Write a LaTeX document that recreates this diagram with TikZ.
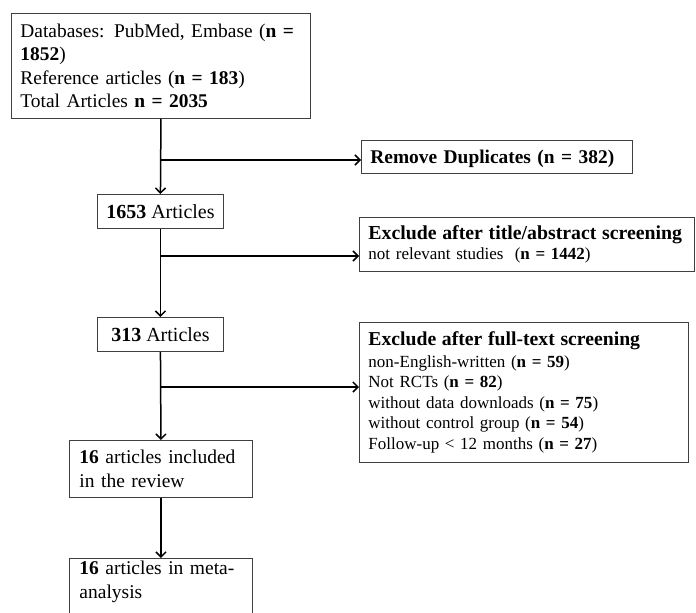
\documentclass[tikz,border=0pt]{standalone}
\usepackage{fontspec}
\setmainfont{Liberation Serif}
\usetikzlibrary{arrows.meta}
\begin{document}
\begin{tikzpicture}[x=1pt,y=-1pt,
  box/.style={draw=black!75, line width=0.9pt, inner xsep=9pt, inner ysep=0pt, anchor=north west, align=left},
  big/.style={font=\fontsize{19.4}{23.3}\selectfont},
  small/.style={font=\fontsize{17}{20.5}\selectfont},
  head/.style={font=\fontsize{19.7}{22}\selectfont\bfseries},
  link/.style={line width=1.5pt, -{Straight Barb[length=5pt,width=10pt]}}]
\useasboundingbox (0,0) rectangle (696,613);
\node[box, big, minimum width=299pt, minimum height=105pt, text width=281pt] (db) at (11,13)
  {Databases: PubMed, Embase (\textbf{n =}\\ \textbf{1852})\\ Reference articles (\textbf{n = 183})\\ Total Articles \textbf{n = 2035}};
\node[box, font=\fontsize{20}{23.3}\selectfont, align=center, inner xsep=0pt, minimum width=126pt, minimum height=34pt] (a1653) at (97,194) {\textbf{1653} Articles};
\node[box, font=\fontsize{19.4}{21}\selectfont\bfseries, minimum width=271pt, minimum height=33pt, text width=253pt, text depth=1pt] (rem) at (361,140)
  {Remove Duplicates (n = 382)};
\node[box, small, minimum width=335pt, minimum height=54pt, text width=317pt] (tit) at (359,217)
  {{\fontsize{19.8}{22}\selectfont\bfseries Exclude after title/abstract screening}\\ not relevant studies~~(\textbf{n = 1442})};
\node[box, font=\fontsize{20}{23.3}\selectfont, align=center, inner xsep=0pt, minimum width=126pt, minimum height=34pt] (a313) at (97,317) {\textbf{313} Articles};
\node[box, small, minimum width=329pt, minimum height=140pt, text width=311pt] (full) at (359,322)
  {{\fontsize{19.7}{22}\selectfont\bfseries Exclude after full-text screening}\\[1pt]
   non-English-written (\textbf{n = 59})\\
   Not RCTs (\textbf{n = 82})\\
   without data downloads (\textbf{n = 75})\\
   without control group (\textbf{n = 54})\\
   Follow-up < 12 months (\textbf{n = 27})};
\node[box, font=\fontsize{19.5}{23.3}\selectfont, inner xsep=10pt, minimum width=183pt, minimum height=57pt, text width=163pt] (rev) at (69,440)
  {\textbf{16} articles included\\ in the review};
\node[box, font=\fontsize{19.5}{23.3}\selectfont, draw=none, inner xsep=10pt, minimum width=183pt, minimum height=47pt, text width=163pt] (meta) at (69,558)
  {\textbf{16} articles in meta-\\ analysis};
\coordinate (bot) at (0,613);
\draw[draw=black!75, line width=0.9pt] (meta.north west |- bot) -- (meta.north west) -- (meta.north east) -- (meta.north east |- bot);
\coordinate (y1) at (0,160);
\coordinate (y2) at (0,256);
\coordinate (y3) at (0,387);
\coordinate (j1) at (db.south |- y1);
\coordinate (j2) at (a1653.south |- y2);
\coordinate (j3) at (a313.south |- y3);
\draw[link] (db.south) -- (a1653.north);
\draw[link] (j1) -- (j1 -| rem.west);
\draw[link] (a1653.south) -- (a313.north);
\draw[link] (j2) -- (j2 -| tit.west);
\draw[link] (a313.south) -- (rev.north);
\draw[link] (j3) -- (j3 -| full.west);
\draw[link] (rev.south) -- (meta.north);
\end{tikzpicture}
\end{document}
